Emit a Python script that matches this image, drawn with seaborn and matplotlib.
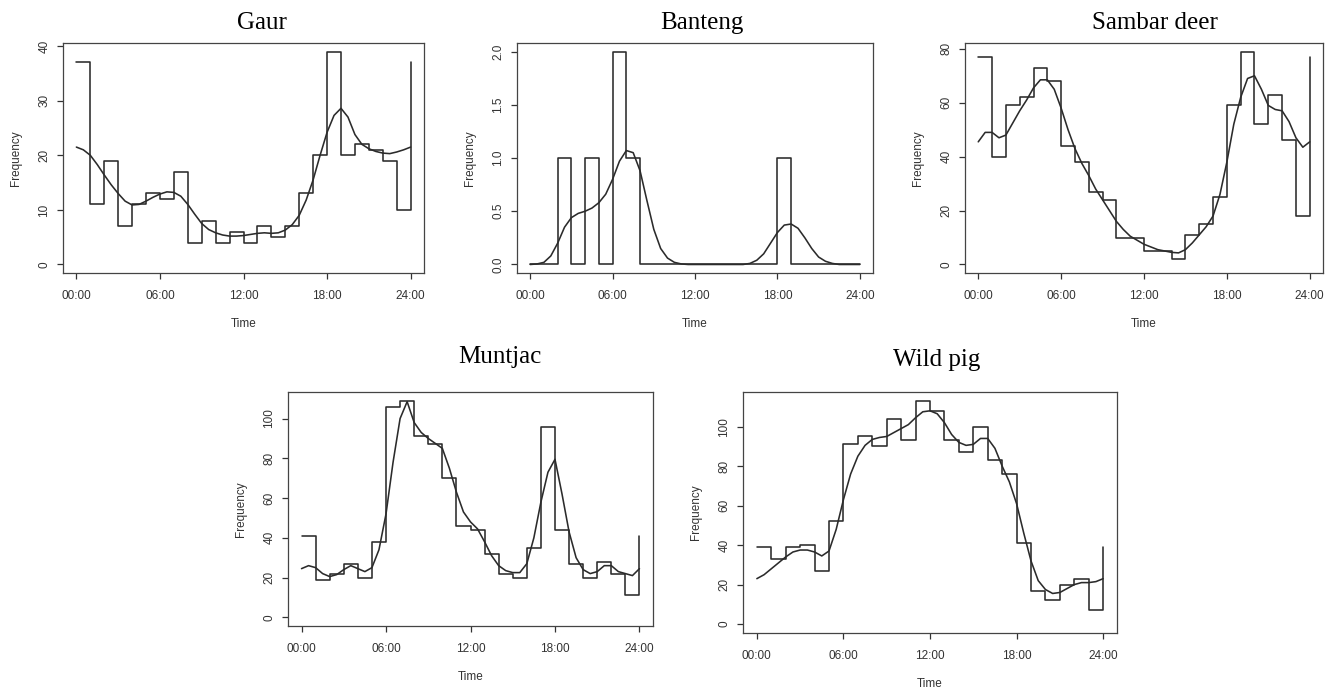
import numpy as np
import pandas as pd
import seaborn as sns
import matplotlib
matplotlib.use("Agg")
import matplotlib.pyplot as plt

# hourly bins 0..23 (counts)
hours = np.arange(0, 25)
tick_hours = [0, 6, 12, 18, 24]
tick_labels = ["00:00", "06:00", "12:00", "18:00", "24:00"]

gaur_counts = [37, 11, 19, 7, 11, 13, 12, 17, 4, 8, 4, 6, 4, 7, 5, 7, 13, 20, 39, 20, 22, 21, 19, 10]
banteng_counts = [0, 0, 1, 0, 1, 0, 2, 1, 0, 0, 0, 0, 0, 0, 0, 0, 0, 0, 1, 0, 0, 0, 0, 0]
sambar_counts = [77, 40, 59, 62, 73, 68, 44, 38, 27, 24, 10, 10, 5, 5, 2, 11, 15, 25, 59, 79, 52, 63, 46, 18]
muntjac_counts = [41, 19, 22, 27, 20, 38, 106, 109, 91, 87, 70, 46, 44, 32, 22, 20, 35, 96, 44, 27, 20, 28, 22, 11]
pig_counts = [39, 33, 39, 40, 27, 52, 91, 95, 90, 104, 93, 113, 108, 93, 87, 100, 83, 76, 41, 17, 12, 20, 23, 7]

# smoothed activity curve, read every half hour
curve_x = np.arange(0, 24.5, 0.5)
gaur_curve = [21.5, 21.0, 20.0, 18.3, 16.4, 14.6, 13.0, 11.6, 10.9, 11.0,
              11.6, 12.3, 12.9, 13.3, 13.2, 12.5, 11.0, 9.2, 7.5, 6.4,
              5.8, 5.4, 5.2, 5.2, 5.3, 5.5, 5.7, 5.8, 5.7, 5.8,
              6.3, 7.3, 9.0, 11.8, 15.5, 20.0, 24.2, 27.3, 28.6, 27.0,
              23.8, 22.0, 21.2, 20.7, 20.4, 20.3, 20.6, 21.0, 21.5]
banteng_curve = [0, 0.005, 0.02, 0.08, 0.2, 0.35, 0.44, 0.48, 0.5, 0.53,
                 0.58, 0.66, 0.8, 0.97, 1.07, 1.05, 0.88, 0.6, 0.33, 0.15,
                 0.06, 0.02, 0.005, 0, 0, 0, 0, 0, 0, 0,
                 0, 0, 0.01, 0.04, 0.1, 0.2, 0.3, 0.37, 0.38, 0.34,
                 0.25, 0.15, 0.07, 0.03, 0.01, 0, 0, 0, 0]
sambar_curve = [45.5, 49, 49, 47, 48, 52.5, 57, 61, 65.5, 68.5,
                68.5, 65, 58, 50, 43, 37.5, 33, 28, 24, 20,
                16, 13, 10.5, 9, 7.5, 6.5, 5.5, 5, 4.5, 4.3,
                5.5, 8, 11, 14, 18, 26, 38, 52, 62, 69,
                70, 65, 59, 57.5, 57, 53, 47, 43.5, 45.5]
muntjac_curve = [24.5, 26, 25, 22, 20.5, 21.5, 24, 26, 24.5, 23,
                 25, 34, 52, 78, 100, 108.5, 98, 93, 90, 87.5,
                 85, 75, 63, 53, 48, 44.5, 38, 31, 26, 23.5,
                 22.5, 22.5, 27, 40, 58, 73, 79.5, 62, 43, 30,
                 24, 22, 23, 26, 26, 23, 22, 21, 24.5]
pig_curve = [23, 25, 28, 31, 34, 36.5, 37.5, 37.5, 36.5, 34.5,
             37, 48, 63, 76, 85, 90.5, 93.5, 94.5, 95, 97,
             99, 101, 104.5, 107.5, 108, 106.5, 102, 96, 92, 90.5,
             91, 94, 94, 89, 80, 72, 61, 46, 32, 22,
             17.5, 15.5, 16, 18, 20, 21, 21, 21.5, 23]

species = ["Gaur", "Banteng", "Sambar deer", "Muntjac", "Wild pig"]
y_ticks = [
    [0, 10, 20, 30, 40],
    [0.0, 0.5, 1.0, 1.5, 2.0],
    [0, 20, 40, 60, 80],
    [0, 20, 40, 60, 80, 100],
    [0, 20, 40, 60, 80, 100],
]
y_ticklabels = [
    ["0", "10", "20", "30", "40"],
    ["0.0", "0.5", "1.0", "1.5", "2.0"],
    ["0", "20", "40", "60", "80"],
    ["0", "20", "40", "60", "80", "100"],
    ["0", "20", "40", "60", "80", "100"],
]
all_counts = [gaur_counts, banteng_counts, sambar_counts, muntjac_counts, pig_counts]
all_curves = [gaur_curve, banteng_curve, sambar_curve, muntjac_curve, pig_curve]

# axes boxes in pixels: left, top, right, bottom
boxes = [
    (63, 43, 424, 273),
    (517, 43, 873, 273),
    (965, 43, 1323, 273),
    (288, 392, 653, 626),
    (743, 392, 1117, 633),
]
title_pos = [(262, 23), (702, 23), (1155, 23), (500, 357), (937, 360)]

W, H = 1333, 690
sns.set_style("ticks")
plt.rcParams["font.family"] = ["Liberation Sans", "DejaVu Sans"]

fig = plt.figure(figsize=(W / 100, H / 100), dpi=100)
line_col = "#2b2b2b"
text_col = "#333333"

for i, name in enumerate(species):
    l, t, r, b = boxes[i]
    ax = fig.add_axes([l / W, 1 - b / H, (r - l) / W, (b - t) / H])
    counts = all_counts[i]
    hist_df = pd.DataFrame({"hour": hours, "count": counts + [counts[0]]})
    curve_df = pd.DataFrame({"hour": curve_x, "freq": all_curves[i]})

    sns.lineplot(data=hist_df, x="hour", y="count", drawstyle="steps-post",
                 color=line_col, lw=1.15, estimator=None, ax=ax)
    sns.lineplot(data=curve_df, x="hour", y="freq", color=line_col, lw=1.15,
                 estimator=None, ax=ax)

    ymax = max(max(counts), max(all_curves[i]))
    ax.set_xlim(-0.96, 24.96)
    ax.set_ylim(-0.04 * ymax, 1.04 * ymax)
    ax.set_xticks(tick_hours)
    ax.set_xticklabels(tick_labels)
    ax.set_yticks(y_ticks[i])
    ax.set_yticklabels(y_ticklabels[i], rotation=90, va="center")
    ax.tick_params(direction="out", length=4.5, width=0.9, colors=text_col,
                   labelsize=8.5)
    ax.tick_params(axis="x", pad=7.5)
    ax.tick_params(axis="y", pad=4.5)
    ax.set_xlabel("Time", fontsize=8.5, color=text_col, labelpad=12)
    ax.set_ylabel("Frequency", fontsize=8.5, color=text_col, labelpad=12)
    for sp in ax.spines.values():
        sp.set_visible(True)
        sp.set_color("#444444")
        sp.set_linewidth(0.9)

    tx, ty = title_pos[i]
    fig.text(tx / W, 1 - ty / H, name, ha="center", va="center",
             fontsize=18, family="Liberation Serif", color="black")

fig.savefig("out.png", dpi=100, facecolor="white")
plt.close(fig)
